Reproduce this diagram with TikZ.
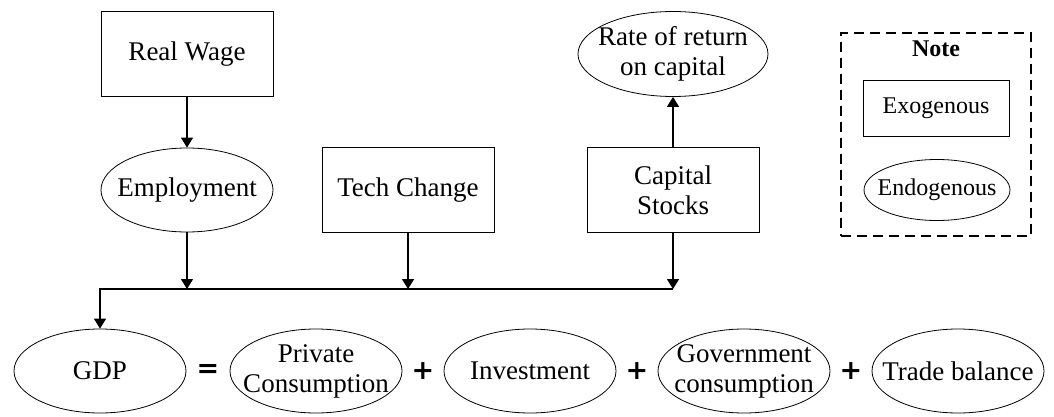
\documentclass[tikz,border=0pt]{standalone}
\usepackage{fontspec}
\setmainfont{Liberation Serif}
\setsansfont{DejaVu Sans}
\usetikzlibrary{shapes.geometric,arrows.meta}

\begin{document}
\begin{tikzpicture}[x=1pt,y=-1pt,
    font=\rmfamily\fontsize{27}{30}\selectfont,
    exo/.style={draw,rectangle,line width=0.8pt,minimum width=172pt,minimum height=85pt,align=center},
    endo/.style={draw,ellipse,line width=0.8pt,inner xsep=-30pt,inner ysep=-10pt,minimum width=172pt,minimum height=84pt,align=center},
    op/.style={font=\sffamily\bfseries\fontsize{27}{27}\selectfont},
    link/.style={line width=1.6pt,-{Triangle[width=12pt,length=10pt]}},
    legend/.style={font=\rmfamily\fontsize{24}{26}\selectfont},
    notebox/.style={draw,line width=1.6pt,dash pattern=on 10pt off 6pt,minimum width=190pt,minimum height=203pt}]
    \useasboundingbox (0,0) rectangle (1054,417);

    % upper part
    \node[exo] (wage) at (187,54) {Real Wage};
    \node[endo] (employ) at (187,190) {Employment};
    \node[exo] (tech) at (408,190) {Tech Change};
    \node[exo] (capital) at (673,190) {Capital\\Stocks};
    \node[endo,minimum width=190pt,minimum height=85pt] (rate) at (673,54) {Rate of return\\on capital};

    % GDP identity
    \node[endo] (gdp) at (100,371) {GDP};
    \node[op] (eq) at (208,371) {=};
    \node[endo] (privc) at (316,371) {Private\\Consumption};
    \node[op] (plusa) at (423,371) {+};
    \node[endo] (inv) at (530,371) {Investment};
    \node[op] (plusb) at (637,371) {+};
    \node[endo] (govc) at (744,371) {Government\\consumption};
    \node[op] (plusc) at (851,371) {+};
    \node[endo] (trade) at (958,371) {Trade balance};

    % legend
    \node[notebox] (note) at (936,134.5) {};
    \node[legend] (notetitle) at (936,49) {\bfseries Note};
    \node[exo,legend,minimum width=146pt,minimum height=56pt] (exokey) at (936,108) {Exogenous};
    \node[endo,legend,minimum width=146pt,minimum height=61pt] (endokey) at (937,190) {Endogenous};

    % connectors
    \coordinate (busL) at (100,289);
    \coordinate (busR) at (673,289);
    \draw[link] (wage) -- (employ);
    \draw[link] (capital) -- (rate);
    \draw[link] (employ) -- (employ |- busL);
    \draw[link] (tech) -- (tech |- busL);
    \draw[link] (capital) -- (capital |- busL);
    \draw[link] (busR) -- (busL) -- (gdp);
\end{tikzpicture}
\end{document}
